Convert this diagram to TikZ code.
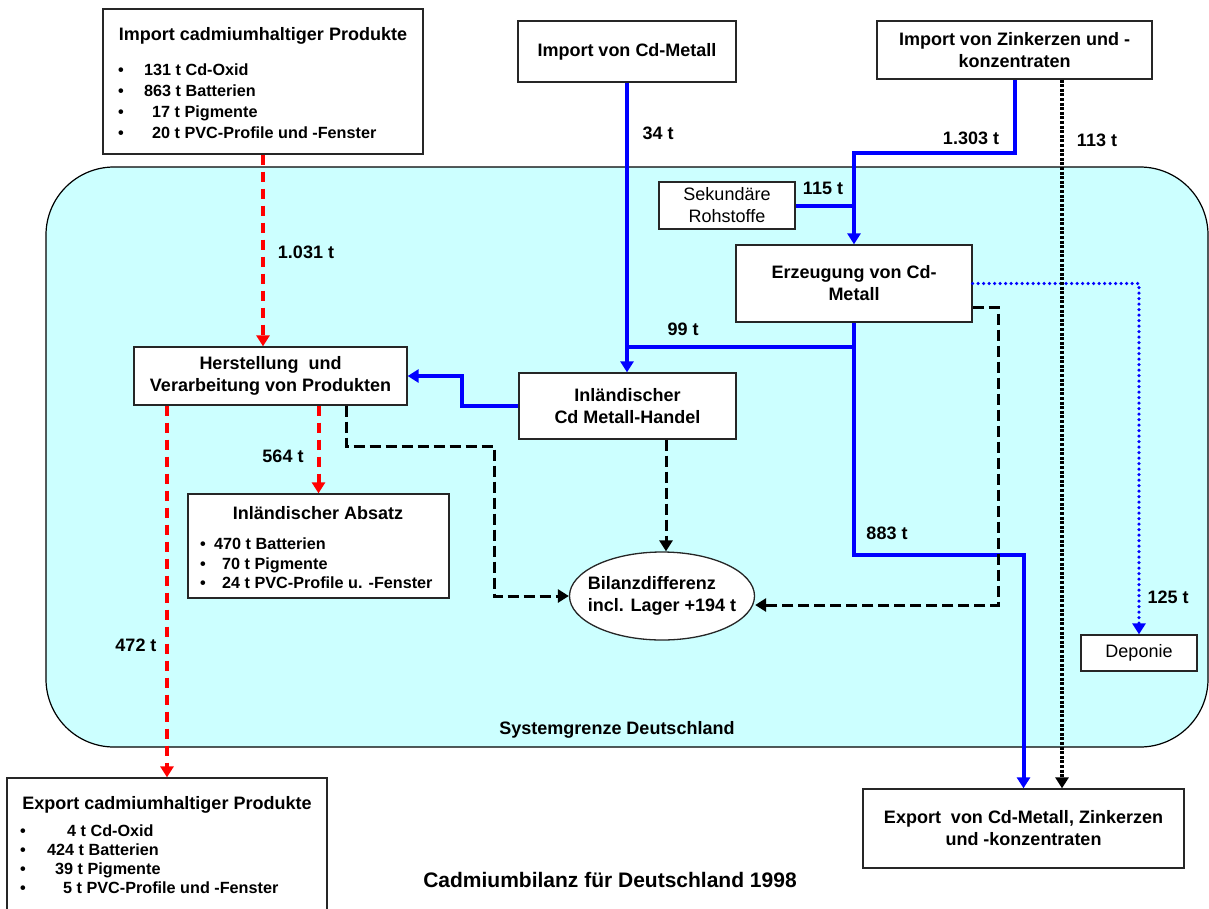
\documentclass[tikz,border=0pt]{standalone}
\usepackage{fontspec}
\setmainfont{Liberation Sans}
\usetikzlibrary{arrows.meta,shapes.geometric}
\definecolor{sysfill}{HTML}{CCFFFF}
\newcommand\fs{\fontsize{18pt}{22pt}\selectfont}
\newcommand\fsi{\fontsize{16.2pt}{20pt}\selectfont}
\newcommand\fst{\fontsize{21pt}{25pt}\selectfont}
\begin{document}
\begin{tikzpicture}[x=1pt,y=-1pt,
 box/.style={draw=black!85, line width=1.3pt, fill=white, inner sep=0pt, align=center, font=\fs\bfseries},
 plainbox/.style={box, font=\fs},
 lbl/.style={inner sep=0pt, anchor=base, font=\fs\bfseries},
 item/.style={inner sep=0pt, anchor=base west, font=\fsi\bfseries},
 bul/.style={inner sep=0pt, anchor=base, font=\fsi\bfseries},
 tip/.style={-{Triangle[width=13pt,length=11pt]}},
 bflow/.style={draw=blue, line width=4pt},
 rflow/.style={draw=red, line width=4pt, dash pattern=on 10pt off 7pt},
 kdash/.style={draw=black, line width=3pt, dash pattern=on 11pt off 5pt},
 kdot/.style={draw=black, line width=4.5pt, dash pattern=on 3pt off 1.6pt},
 bdot/.style={draw=blue, line width=3.6pt, line cap=round, dash pattern=on 0pt off 5.5pt},
]
\useasboundingbox (0,0) rectangle (1209,908);
% system boundary
\draw[fill=sysfill, line width=1.2pt, rounded corners=68pt] (46,167) rectangle (1208,747);
\node[lbl] (sysl) at (617,734) {Systemgrenze Deutschland};

% boxes
\node[box, minimum width=320pt, minimum height=145pt] (imp1) at (263,81.5) {};
\node[box, minimum width=218pt, minimum height=61pt] (impCd) at (627,51.5) {Import von Cd-Metall};
\node[box, minimum width=275pt, minimum height=58pt] (impZn) at (1014.5,50) {Import von Zinkerzen und -\\konzentraten};
\node[plainbox, minimum width=136pt, minimum height=47pt] (sek) at (727,205.5) {Sekundäre\\Rohstoffe};
\node[box, minimum width=236pt, minimum height=77pt] (erz) at (854,283.5) {Erzeugung von Cd-\\Metall};
\node[box, minimum width=273pt, minimum height=58pt] (herst) at (270.5,376) {Herstellung~ und\\Verarbeitung von Produkten};
\node[box, minimum width=217pt, minimum height=66pt] (handel) at (627.5,406) {Inländischer\\Cd Metall-Handel};
\node[box, minimum width=261pt, minimum height=104pt] (absatz) at (318.5,546) {};
\node[box, ellipse, minimum width=185pt, minimum height=88pt, inner xsep=-9pt, inner ysep=-4pt, align=left] (bil) at (662,596) {Bilanzdifferenz\\incl. Lager +194 t};
\node[plainbox, minimum width=116pt, minimum height=36pt] (depo) at (1139,653) {Deponie};
\node[box, minimum width=321pt, minimum height=79pt] (expCd) at (1023.5,828.5) {Export~ von Cd-Metall, Zinkerzen\\und -konzentraten};
\node[box, minimum width=320pt, minimum height=140pt] (expP) at (167,848) {};

% list texts: import
\node[lbl] (imp1t) at (263,40) {Import cadmiumhaltiger Produkte};
\node[bul] (imp1b1) at (121,75) {•};
\node[bul] (imp1b2) at (121,96) {•};
\node[bul] (imp1b3) at (121,117) {•};
\node[bul] (imp1b4) at (121,138) {•};
\node[item] (imp1i1) at (144,75) {131 t Cd-Oxid};
\node[item] (imp1i2) at (144,96) {863 t Batterien};
\node[item] (imp1i3) at (152,117) {17 t Pigmente};
\node[item] (imp1i4) at (152,138) {20 t PVC-Profile und -Fenster};

% list texts: absatz
\node[lbl] (abst) at (318,519) {Inländischer Absatz};
\node[bul] (absb1) at (203,549) {•};
\node[bul] (absb2) at (203,569) {•};
\node[bul] (absb3) at (203,588) {•};
\node[item] (absi1) at (214,549) {470 t Batterien};
\node[item] (absi2) at (222,569) {70 t Pigmente};
\node[item] (absi3) at (222,588) {24 t PVC-Profile u. -Fenster};

% list texts: export
\node[lbl] (expt) at (167,809) {Export cadmiumhaltiger Produkte};
\node[bul] (expb1) at (23,836) {•};
\node[bul] (expb2) at (23,855) {•};
\node[bul] (expb3) at (23,874) {•};
\node[bul] (expb4) at (23,893) {•};
\node[item] (expi1) at (67,836) {4 t Cd-Oxid};
\node[item] (expi2) at (47,855) {424 t Batterien};
\node[item] (expi3) at (55,874) {39 t Pigmente};
\node[item] (expi4) at (63,893) {5 t PVC-Profile und -Fenster};

% coordinates
\coordinate (zk) at (854,153);
\coordinate (b99) at (627,347);
\coordinate (bx) at (1023.5,555);
\coordinate (hb) at (462,376);
\coordinate (y307) at (0,307);
\coordinate (ed) at (998,605);
\coordinate (h1) at (346,446);
\coordinate (h2) at (494,596);
\coordinate (zd) at (1062,0);
\coordinate (hx) at (666,0);

% red flows
\draw[rflow, tip] (imp1.south) -- (imp1.south |- herst.north);
\draw[rflow, tip] (absatz.north |- herst.south) -- (absatz.north);
\draw[rflow, tip] (expP.north |- herst.south) -- (expP.north);

% blue flows
\draw[bflow, tip] (impCd.south) -- (impCd.south |- handel.north);
\draw[bflow, tip] (impZn.south) |- (zk) -- (erz.north);
\draw[bflow] (sek.east) -- (sek.east -| erz.north);
\draw[bflow] (erz.south |- b99) -- (impCd.south |- b99);
\draw[bflow, tip] (erz.south) |- (bx) -- (expCd.north);
\draw[bflow, tip] (handel.west) -| (hb) -- (herst.east);
\draw[bdot, tip] (erz.east) -| (depo.north);

% black flows
\draw[kdot, tip] (zd |- impZn.south) -- (zd |- expCd.north);
\draw[kdash, tip] (erz.east |- y307) -| (ed) -- (bil.east |- ed);
\draw[kdash, tip] (h1 |- herst.south) -- (h1) -| (h2) -- (bil.west);
\draw[kdash, tip] (hx |- handel.south) -- (hx |- bil.north);

% flow labels
\node[lbl] (l34) at (658,139) {34 t};
\node[lbl] (l1303) at (971,144) {1.303 t};
\node[lbl] (l113) at (1097,146) {113 t};
\node[lbl] (l115) at (823,194) {115 t};
\node[lbl] (l1031) at (306,258) {1.031 t};
\node[lbl] (l99) at (683,335) {99 t};
\node[lbl] (l564) at (283,462) {564 t};
\node[lbl] (l883) at (887,539) {883 t};
\node[lbl] (l125) at (1168,603) {125 t};
\node[lbl] (l472) at (136,651) {472 t};

\node[lbl, font=\fst\bfseries] (title) at (610,887) {Cadmiumbilanz für Deutschland 1998};
\end{tikzpicture}
\end{document}
